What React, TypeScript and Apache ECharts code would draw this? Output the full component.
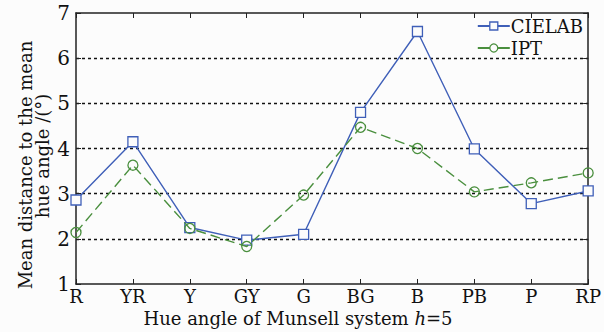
import React, { useEffect, useRef } from "react";
import * as echarts from "echarts";

// Munsell hue categories
const hues = ["R", "YR", "Y", "GY", "G", "BG", "B", "PB", "P", "RP"];
// Mean distance to the mean hue angle (degrees)
const cielab = [2.86, 4.15, 2.25, 1.97, 2.1, 4.8, 6.59, 3.99, 2.78, 3.06];
const ipt = [2.14, 3.63, 2.23, 1.83, 2.97, 4.47, 4.0, 3.04, 3.24, 3.46];
const yTicks = { min: 1, max: 7, interval: 1 };

const FONT = "DejaVu Serif";
const BLUE = "#3f5fb8";
const GREEN = "#4a8f3e";
const INK = "#111";

export default function App() {
  const ref = useRef<HTMLDivElement>(null);

  useEffect(() => {
    if (!ref.current) return;
    const chart = echarts.init(ref.current, null, { renderer: "svg" });
    const axisLine = { show: true, lineStyle: { color: "#222", width: 1.5 } };
    const tick = { show: true, inside: true, length: 5, lineStyle: { color: "#222" } };
    const yTitle = (text: string, x: number, y: number) => ({
      type: "text",
      x,
      y,
      rotation: Math.PI / 2,
      style: {
        text,
        align: "center",
        verticalAlign: "middle",
        fontFamily: FONT,
        fontSize: 18,
        fill: INK,
      },
    });
    chart.setOption({
      animation: false,
      backgroundColor: "#fcfcfc",
      grid: { left: 76, right: 13, top: 13, bottom: 48 },
      legend: {
        orient: "vertical",
        right: 16,
        top: 12,
        itemWidth: 32,
        itemHeight: 10,
        itemGap: 4,
        textStyle: { fontFamily: FONT, fontSize: 18, color: INK, padding: [0, 0, 0, -4] },
        data: [
          {
            name: "CIELAB",
            itemStyle: { color: "#fcfcfc", borderColor: BLUE, borderWidth: 1.3 },
            lineStyle: { type: "solid" },
          },
          {
            name: "IPT",
            itemStyle: { color: "#fcfcfc", borderColor: GREEN, borderWidth: 1.3 },
            lineStyle: { type: "solid" },
          },
        ],
      },
      graphic: [
        {
          type: "text",
          x: 298,
          y: 318,
          style: {
            text: "{n|Hue angle of Munsell system }{i|h}{n|=5}",
            align: "center",
            verticalAlign: "middle",
            rich: {
              n: { fontFamily: FONT, fontSize: 18, fill: INK },
              i: { fontFamily: FONT, fontSize: 18, fill: INK, fontStyle: "italic" },
            },
          },
        },
        yTitle("Mean distance to the mean", 25, 165),
        yTitle("hue angle /(°)", 42, 156),
      ],
      xAxis: [
        {
          type: "category",
          data: hues,
          boundaryGap: false,
          axisLine,
          axisTick: tick,
          axisLabel: { fontFamily: FONT, fontSize: 18, color: INK, margin: 3 },
          splitLine: { show: false },
        },
        {
          type: "category",
          data: hues,
          boundaryGap: false,
          position: "top",
          axisLine,
          axisTick: tick,
          axisLabel: { show: false },
          splitLine: { show: false },
        },
      ],
      yAxis: [
        {
          type: "value",
          ...yTicks,
          axisLine,
          axisTick: tick,
          axisLabel: { fontFamily: FONT, fontSize: 20, color: INK, margin: 6 },
          splitLine: {
            show: true,
            showMinLine: false,
            showMaxLine: false,
            lineStyle: { color: INK, type: [3, 3], width: 1.3 },
          },
        },
        {
          type: "value",
          ...yTicks,
          position: "right",
          axisLine,
          axisTick: tick,
          axisLabel: { show: false },
          splitLine: { show: false },
        },
      ],
      series: [
        {
          name: "CIELAB",
          type: "line",
          data: cielab,
          symbol: "rect",
          symbolSize: 10,
          itemStyle: { color: "#fcfcfc", borderColor: BLUE, borderWidth: 1.3 },
          lineStyle: { color: BLUE, width: 1.4 },
          z: 3,
        },
        {
          name: "IPT",
          type: "line",
          data: ipt,
          symbol: "circle",
          symbolSize: 10,
          itemStyle: { color: "rgba(0,0,0,0)", borderColor: GREEN, borderWidth: 1.3 },
          lineStyle: { color: GREEN, width: 1.4, type: [10, 5] },
          z: 4,
        },
      ],
    });
    return () => chart.dispose();
  }, []);

  return (
    <div
      ref={ref}
      style={{ position: "fixed", left: 0, top: 0, width: 604, height: 332 }}
    />
  );
}
